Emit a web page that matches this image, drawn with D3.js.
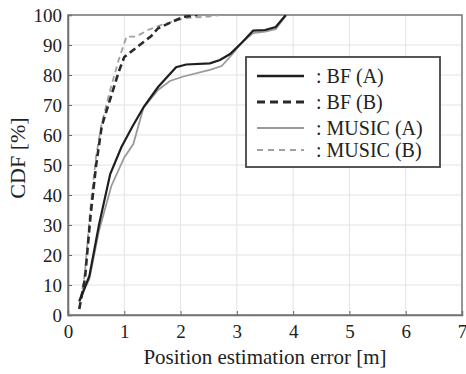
<!DOCTYPE html>
<html><head><meta charset="utf-8">
<script src="https://cdn.jsdelivr.net/npm/d3@7"></script>
<style>body{margin:0;background:#fff}svg{display:block}text{font-family:"Liberation Serif","DejaVu Serif",serif;}</style>
</head><body>
<script>
const xTicks = [0,1,2,3,4,5,6,7];
const yTicks = [0,10,20,30,40,50,60,70,80,90,100];
const seriesNames = [": BF (A)", ": BF (B)", ": MUSIC (A)", ": MUSIC (B)"];
const bfA = [[0.2,4.5],[0.38,13],[0.55,30],[0.75,47],[0.95,56],[1.15,63],[1.35,69.5],[1.6,76],[1.92,82.6],[2.1,83.5],[2.52,83.9],[2.7,85],[2.88,87],[3.1,91],[3.29,94.8],[3.5,95],[3.69,96],[3.87,100]];
const bfB = [[0.2,2],[0.3,12],[0.4,33],[0.5,50],[0.6,63],[0.75,72],[0.9,81],[1.0,86],[1.24,89.5],[1.48,93],[1.6,95.6],[1.8,97.3],[2.05,99.4],[2.3,100]];
const musicA = [[0.2,5],[0.38,12],[0.55,28],[0.77,43],[1.0,52.5],[1.16,57],[1.34,69],[1.6,75],[1.81,78],[2.05,79.5],[2.52,81.7],[2.73,83],[2.9,86.5],[3.1,91],[3.29,94],[3.5,94.5],[3.69,95.3],[3.88,100]];
const musicB = [[0.2,2],[0.3,14],[0.4,36],[0.5,53],[0.6,64],[0.75,75],[0.9,85],[1.04,92.8],[1.21,92.8],[1.42,95],[1.66,96.7],[1.9,98],[2.1,99],[2.5,99.5],[2.7,100]];

const W = 466, H = 374;
const m = {l:68, r:4, t:15, b:59};
const svg = d3.select("body").append("svg").attr("width",W).attr("height",H);
const x = d3.scaleLinear().domain([0,7]).range([m.l, W-m.r]);
const y = d3.scaleLinear().domain([0,100]).range([H-m.b, m.t]);

// grid
svg.append("g").selectAll("line").data(xTicks).join("line")
  .attr("x1",d=>x(d)).attr("x2",d=>x(d)).attr("y1",y(0)).attr("y2",y(100))
  .attr("stroke","#e3e3e3").attr("stroke-width",1);
svg.append("g").selectAll("line").data(yTicks).join("line")
  .attr("x1",x(0)).attr("x2",x(7)).attr("y1",d=>y(d)).attr("y2",d=>y(d))
  .attr("stroke","#e3e3e3").attr("stroke-width",1);

// axes
const xa = svg.append("g").attr("transform",`translate(0,${y(0)})`)
  .call(d3.axisBottom(x).tickValues(xTicks).tickSize(-4).tickPadding(10).tickFormat(d3.format("d")));
const ya = svg.append("g").attr("transform",`translate(${x(0)},0)`)
  .call(d3.axisLeft(y).tickValues(yTicks).tickSize(-4).tickPadding(6).tickFormat(d3.format("d")));
[xa,ya].forEach(g=>{
  g.attr("font-family",null);
  g.select(".domain").attr("stroke","#666").attr("stroke-width",1.5);
  g.selectAll(".tick line").attr("stroke","#666");
  g.selectAll("text").attr("font-size",19).attr("fill","#222");
});
svg.append("rect").attr("x",x(0)).attr("y",y(100)).attr("width",x(7)-x(0)).attr("height",y(0)-y(100))
  .attr("fill","none").attr("stroke","#777").attr("stroke-width",1.5);

// lines
const line = d3.line().x(d=>x(d[0])).y(d=>y(d[1]));
const styles = [
  {data:bfA, color:"#1e1e1e", w:2.2, dash:null},
  {data:bfB, color:"#2a2a2a", w:2.6, dash:"7,4"},
  {data:musicA, color:"#9a9a9a", w:1.8, dash:null},
  {data:musicB, color:"#a0a0a0", w:1.8, dash:"6,4"}
];
svg.append("clipPath").attr("id","clip").append("rect")
  .attr("x",x(0)).attr("y",y(100)).attr("width",x(7)-x(0)).attr("height",y(0)-y(100));
[3,2,1,0].forEach(i=>{
  const s = styles[i];
  svg.append("path").datum(s.data).attr("d",line).attr("fill","none")
    .attr("stroke",s.color).attr("stroke-width",s.w)
    .attr("stroke-dasharray",s.dash).attr("clip-path","url(#clip)");
});

// legend
const lg = svg.append("g");
lg.append("rect").attr("x",246).attr("y",57).attr("width",194).attr("height",110)
  .attr("fill","#fff").attr("stroke","#444").attr("stroke-width",1.8);
const rowY = [76,102,128,150];
const legDash = [null,"8,5",null,"6,5"];
seriesNames.forEach((n,i)=>{
  const s = styles[i];
  lg.append("line").attr("x1",257).attr("x2",304).attr("y1",rowY[i]).attr("y2",rowY[i])
    .attr("stroke",s.color).attr("stroke-width",s.w+0.3).attr("stroke-dasharray",legDash[i]);
  lg.append("text").attr("x",316).attr("y",rowY[i]+7).text(n)
    .attr("font-size",20).attr("fill","#222");
});

// axis titles
svg.append("text").attr("x",(x(0)+x(7))/2).attr("y",364).attr("text-anchor","middle")
  .attr("font-size",21).attr("fill","#222").text("Position estimation error [m]");
svg.append("text").attr("transform","translate(25,158) rotate(-90)").attr("text-anchor","middle")
  .attr("font-size",22).attr("fill","#222").text("CDF [%]");
</script>
</body></html>
